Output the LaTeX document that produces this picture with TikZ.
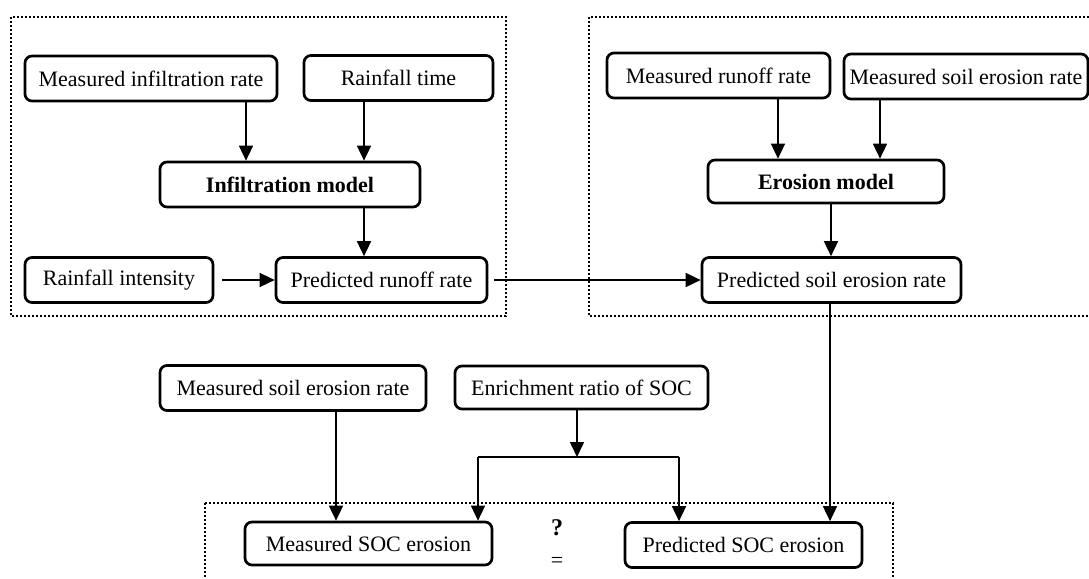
\documentclass[tikz,border=0pt]{standalone}
\usepackage{fontspec}
\setmainfont{Liberation Serif}
\usetikzlibrary{arrows.meta}

\begin{document}
\begin{tikzpicture}[x=0.5pt, y=-0.5pt, font=\fontsize{11}{13}\selectfont]
	\tikzset{
		box/.style={draw, rounded corners=3.5pt, line width=1.35pt, minimum height=22.5pt, inner sep=0pt},
		arr/.style={-{Triangle[length=7.5pt,width=7pt]}, line width=0.8pt},
		group/.style={line width=1.2pt, dash pattern=on 1pt off 1pt}
	}
	\useasboundingbox (0,0) rectangle (1089,579);
	\clip (0,0) rectangle (1089,579);
	
	% dotted groups
	\draw[group] (11,17) rectangle (506,316);
	\draw[group] (589,17) rectangle (1110,316);
	\draw[group] (205,503) rectangle (893,600);
	
	% infiltration part
	\node[box, minimum width=126pt] (minf) at (151,78.5) {Measured infiltration rate};
	\node[box, minimum width=94.5pt] (rtime) at (398.5,78) {Rainfall time};
	\node[box, minimum width=130pt] (infmod) at (290,184.5) {\bfseries Infiltration model};
	\node[box, minimum width=94pt] (rint) at (119,280) {Rainfall intensity};
	\node[box, minimum width=105.5pt] (prun) at (381.5,280) {Predicted runoff rate};
	
	% erosion part
	\node[box, minimum width=111.5pt] (mrun) at (718.5,75.5) {Measured runoff rate};
	\node[box, minimum width=122pt] (msoil) at (966,76.5) {Measured soil erosion rate};
	\node[box, minimum width=118pt, minimum height=21.5pt] (eromod) at (826,181.5) {\bfseries Erosion model};
	\node[box, minimum width=129.5pt] (psoil) at (831.5,280) {Predicted soil erosion rate};
	
	% SOC part
	\node[box, minimum width=133pt] (mser) at (293,388) {Measured soil erosion rate};
	\node[box, minimum width=126.5pt, minimum height=21.5pt] (enr) at (581.5,387.5) {Enrichment ratio of SOC};
	\node[box, minimum width=123.5pt, minimum height=21.5pt] (msoc) at (368.5,543.5) {Measured SOC erosion};
	\node[box, minimum width=118.5pt] (psoc) at (743.5,545) {Predicted SOC erosion};
	\node (ques) at (557,528) {\bfseries\large ?};
	\node (eq) at (557,562) {=};
	
	\coordinate (jl) at (478,457);
	\coordinate (jm) at (577,457);
	\coordinate (jr) at (679,457);
	
	\draw[arr] (minf.south -| 246,0) -- (infmod.north -| 246,0);
	\draw[arr] (rtime.south -| 364,0) -- (infmod.north -| 364,0);
	\draw[arr] (infmod.south -| 364,0) -- (prun.north -| 364,0);
	\draw[arr, shorten <=4pt] (rint) -- (prun);
	\draw[arr, shorten <=3pt] (prun) -- (psoil);
	
	\draw[arr] (mrun.south -| 778,0) -- (eromod.north -| 778,0);
	\draw[arr] (msoil.south -| 880,0) -- (eromod.north -| 880,0);
	\draw[arr] (eromod.south -| 831,0) -- (psoil.north -| 831,0);
	\draw[arr] (psoil.south -| 830,0) -- (psoc.north -| 830,0);
	
	\draw[arr] (mser.south -| 336,0) -- (msoc.north -| 336,0);
	\draw[arr] (enr.south -| jm) -- (jm);
	\draw[line width=0.8pt] (jl) -- (jr);
	\draw[arr] (jl) -- (msoc.north -| jl);
	\draw[arr] (jr) -- (psoc.north -| jr);
\end{tikzpicture}
\end{document}
